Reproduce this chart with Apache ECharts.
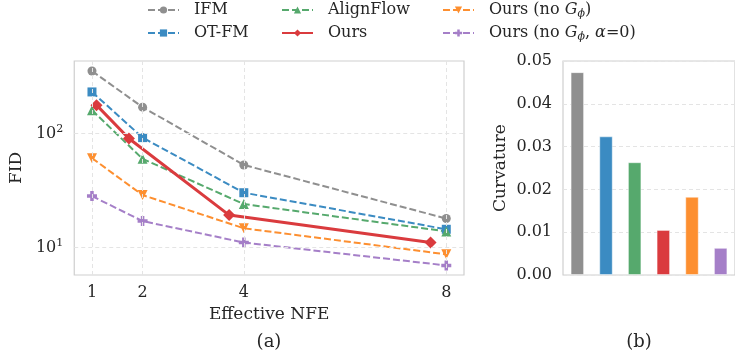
<!DOCTYPE html>
<html>
<head>
<meta charset="utf-8">
<script src="https://cdn.jsdelivr.net/npm/echarts@6/dist/echarts.min.js"></script>
<style>
  html, body { margin: 0; padding: 0; background: #fff; }
  #chart { width: 735px; height: 360px; }
</style>
</head>
<body>
<div id="chart"></div>
<script>
// (a) FID vs effective NFE
var nfe = [1, 2, 4, 8];
var ifm = [352, 170, 53, 18];
var otfm = [231, 92, 30.3, 14.5];
var alignflow = [160, 60, 24.1, 13.9];
var oursNoG = [60.8, 28.9, 14.8, 8.75];
var oursNoGA0 = [28.3, 17.1, 11.1, 7.0];
var oursNfe = [1.09, 1.73, 3.71, 7.69];
var ours = [177, 90.4, 19.3, 11.1];
var yTicks = [10, 100];

// (b) curvature
var methods = ['IFM', 'OT-FM', 'AlignFlow', 'Ours', 'Ours (no Gϕ)', 'Ours (no Gϕ, α=0)'];
var curvature = [0.0474, 0.0324, 0.02635, 0.01053, 0.01828, 0.00635];

var colors = {
  'IFM': '#8f8f8f',
  'OT-FM': '#3b8bc2',
  'AlignFlow': '#56a96d',
  'Ours': '#da3b3e',
  'Ours (no Gϕ)': '#fd8f30',
  'Ours (no Gϕ, α=0)': '#a57fc8'
};
var FONT = 'DejaVu Serif';
var TXT = '#262626';

function pairs(xs, ys) {
  return xs.map(function (x, i) { return [x, ys[i]]; });
}

var chart = echarts.init(document.getElementById('chart'));

function lineSeries(name, xs, ys, symbol, size, solid) {
  return {
    name: name,
    type: 'line',
    xAxisIndex: 0,
    yAxisIndex: 0,
    data: pairs(xs, ys),
    symbol: symbol,
    symbolSize: size,
    z: solid ? 4 : 3,
    itemStyle: { color: colors[name] },
    lineStyle: {
      color: colors[name],
      width: solid ? 3 : 2,
      type: solid ? 'solid' : [7, 3]
    },
    emphasis: { disabled: true },
    animation: false
  };
}

var legendRich = {
  it: { fontFamily: FONT, fontSize: 16, fontStyle: 'italic', color: TXT },
  sub: { fontFamily: FONT, fontSize: 11, fontStyle: 'italic', color: TXT, padding: [8, 0, 0, 0] }
};
function legendFmt(n) {
  return n.replace('Gϕ', '{it|G}{sub|ϕ}').replace('α', '{it|α}');
}
var legendPos = [
  ['IFM', 147, 2], ['OT-FM', 147, 25],
  ['AlignFlow', 281, 2], ['Ours', 281, 25],
  ['Ours (no Gϕ)', 442, 2], ['Ours (no Gϕ, α=0)', 442, 25]
];
var legends = legendPos.map(function (p) {
  return {
    data: [p[0]],
    left: p[1],
    top: p[2],
    padding: 0,
    itemWidth: 31,
    itemHeight: 9,
    formatter: legendFmt,
    selectedMode: false,
    textStyle: { fontFamily: FONT, fontSize: 16, color: TXT, padding: [0, 0, 0, 10], rich: legendRich }
  };
});

var gridLine = { color: '#e4e4e4', width: 1, type: [4, 3] };

chart.setOption({
  backgroundColor: '#fff',
  animation: false,
  legend: legends,
  grid: [
    { left: 74, top: 61, right: 271, bottom: 85, show: true, borderColor: '#cfcfcf', borderWidth: 1.2, backgroundColor: '#fff' },
    { left: 563, top: 61, right: -6, bottom: 85, show: true, borderColor: '#cfcfcf', borderWidth: 1.2, backgroundColor: '#fff' }
  ],
  xAxis: [
    {
      type: 'value', gridIndex: 0, min: 0.65, max: 8.35,
      name: 'Effective NFE', nameLocation: 'middle', nameGap: 30,
      nameTextStyle: { fontFamily: FONT, fontSize: 17, color: TXT },
      axisLine: { show: false },
      axisTick: { show: false },
      splitLine: { show: false },
      axisLabel: { customValues: nfe, margin: 10, fontFamily: FONT, fontSize: 16, color: TXT }
    },
    {
      type: 'category', gridIndex: 1, data: methods,
      axisLine: { show: false },
      axisTick: { show: false },
      axisLabel: { show: false },
      splitLine: { show: false }
    }
  ],
  yAxis: [
    {
      type: 'log', logBase: 10, gridIndex: 0, min: 5.77, max: 431,
      name: 'FID', nameLocation: 'middle', nameGap: 43,
      nameTextStyle: { fontFamily: FONT, fontSize: 17, color: TXT },
      axisLine: { show: false },
      axisTick: { show: false },
      splitLine: { show: false },
      minorSplitLine: { show: false },
      axisLabel: {
        customValues: yTicks, margin: 11, fontFamily: FONT, fontSize: 16, color: TXT,
        formatter: function (v) { return '10{sup|' + Math.round(Math.log10(v)) + '}'; },
        rich: { sup: { fontFamily: FONT, fontSize: 11, color: TXT, padding: [0, 0, 9, 0] } }
      }
    },
    {
      type: 'value', gridIndex: 1, min: 0, max: 0.05, interval: 0.01,
      name: 'Curvature', nameLocation: 'middle', nameGap: 54,
      nameTextStyle: { fontFamily: FONT, fontSize: 17, color: TXT },
      axisLine: { show: false },
      axisTick: { show: false },
      splitLine: { show: true, lineStyle: gridLine },
      axisLabel: {
        margin: 11, fontFamily: FONT, fontSize: 16, color: TXT,
        formatter: function (v) { return v.toFixed(2); }
      }
    }
  ],
  graphic: [
    { type: 'text', x: 269, y: 342, style: { text: '(a)', font: '18px "DejaVu Serif"', fill: TXT, textAlign: 'center', textVerticalAlign: 'middle' } },
    { type: 'text', x: 639, y: 342, style: { text: '(b)', font: '18px "DejaVu Serif"', fill: TXT, textAlign: 'center', textVerticalAlign: 'middle' } }
  ],
  series: [
    {
      name: 'grid', type: 'line', xAxisIndex: 0, yAxisIndex: 0, data: [], z: 1,
      markLine: {
        silent: true, symbol: 'none', animation: false,
        label: { show: false },
        lineStyle: gridLine,
        data: nfe.map(function (v) { return { xAxis: v }; })
          .concat(yTicks.map(function (v) { return { yAxis: v }; }))
      }
    },
    lineSeries('IFM', nfe, ifm, 'circle', 9, false),
    lineSeries('OT-FM', nfe, otfm, 'rect', 9, false),
    lineSeries('AlignFlow', nfe, alignflow, 'triangle', 10, false),
    lineSeries('Ours (no Gϕ)', nfe, oursNoG, 'path://M-1,-1L1,-1L0,1Z', 10, false),
    lineSeries('Ours (no Gϕ, α=0)', nfe, oursNoGA0, 'path://M-0.35,-1L0.35,-1L0.35,-0.35L1,-0.35L1,0.35L0.35,0.35L0.35,1L-0.35,1L-0.35,0.35L-1,0.35L-1,-0.35L-0.35,-0.35Z', 10, false),
    lineSeries('Ours', oursNfe, ours, 'diamond', 12, true),
    {
      name: 'Curvature', type: 'bar', xAxisIndex: 1, yAxisIndex: 1,
      barWidth: 13.5,
      data: curvature.map(function (v, i) {
        return { value: v, itemStyle: { color: colors[methods[i]] } };
      }),
      itemStyle: { borderColor: 'rgba(255,255,255,0.45)', borderWidth: 1 },
      emphasis: { disabled: true },
      animation: false
    }
  ]
});
</script>
</body>
</html>
